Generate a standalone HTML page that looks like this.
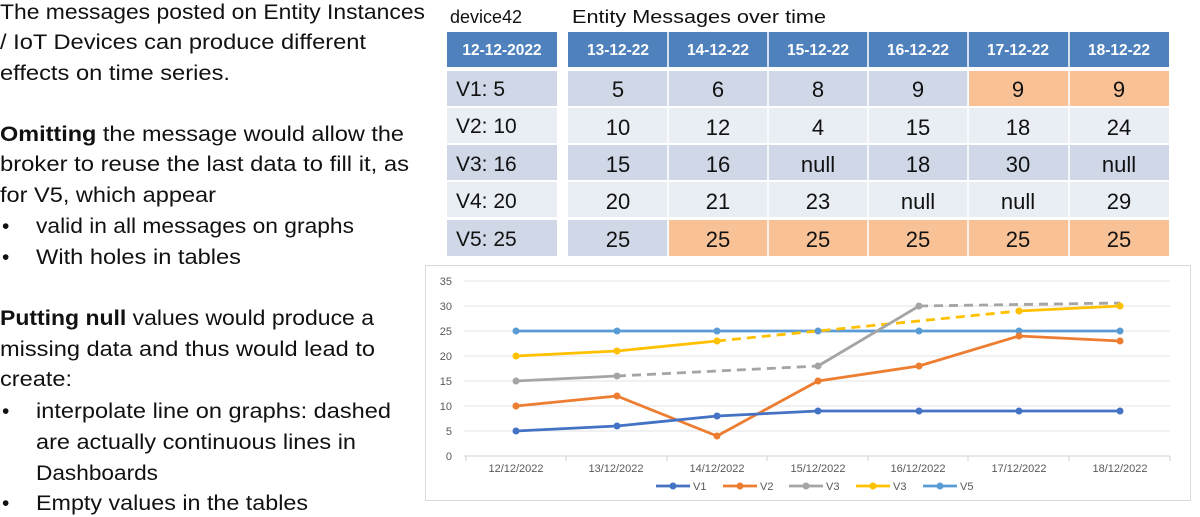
<!DOCTYPE html>
<html><head><meta charset="utf-8"><style>
html,body{margin:0;padding:0;background:#fff;}
svg{display:block;}
text{font-family:"Liberation Sans",sans-serif;}
</style></head><body>
<svg width="1200" height="517" xmlns="http://www.w3.org/2000/svg">
<g font-size="21" fill="#111">
<text x="0" y="19" textLength="425" lengthAdjust="spacingAndGlyphs">The messages posted on Entity Instances</text>
<text x="0" y="49" textLength="366" lengthAdjust="spacingAndGlyphs">/ IoT Devices can produce different</text>
<text x="0" y="80" textLength="230" lengthAdjust="spacingAndGlyphs">effects on time series.</text>
<text x="0" y="141" textLength="404" lengthAdjust="spacingAndGlyphs"><tspan font-weight="bold">Omitting</tspan> the message would allow the</text>
<text x="0" y="171" textLength="409" lengthAdjust="spacingAndGlyphs">broker to reuse the last data to fill it, as</text>
<text x="0" y="202" textLength="216" lengthAdjust="spacingAndGlyphs">for V5, which appear</text>
<text x="2" y="233">•</text><text x="36" y="233" textLength="318" lengthAdjust="spacingAndGlyphs">valid in all messages on graphs</text>
<text x="2" y="264">•</text><text x="36" y="264" textLength="205" lengthAdjust="spacingAndGlyphs">With holes in tables</text>
<text x="0" y="325" textLength="374" lengthAdjust="spacingAndGlyphs"><tspan font-weight="bold">Putting null</tspan> values would produce a</text>
<text x="0" y="356" textLength="375" lengthAdjust="spacingAndGlyphs">missing data and thus would lead to</text>
<text x="0" y="386" textLength="72" lengthAdjust="spacingAndGlyphs">create:</text>
<text x="2" y="418">•</text><text x="36" y="418" textLength="355" lengthAdjust="spacingAndGlyphs">interpolate line on graphs: dashed</text>
<text x="36" y="449" textLength="320" lengthAdjust="spacingAndGlyphs">are actually continuous lines in</text>
<text x="36" y="480" textLength="122" lengthAdjust="spacingAndGlyphs">Dashboards</text>
<text x="2" y="510">•</text><text x="36" y="510" textLength="272" lengthAdjust="spacingAndGlyphs">Empty values in the tables</text>
</g>
<g font-size="18" fill="#111">
<text x="450" y="23">device42</text>
<text x="572" y="23" textLength="254" lengthAdjust="spacingAndGlyphs">Entity Messages over  time</text>
</g>
<g>
<rect x="447" y="32" width="110" height="35" fill="#4F81BD"/>
<rect x="568" y="32" width="601" height="35" fill="#4F81BD"/>
<rect x="447" y="71" width="110" height="35" fill="#D0D8E8"/>
<rect x="447" y="108" width="110" height="35" fill="#E9EDF4"/>
<rect x="447" y="145" width="110" height="35" fill="#D0D8E8"/>
<rect x="447" y="182" width="110" height="35" fill="#E9EDF4"/>
<rect x="447" y="220" width="110" height="36" fill="#D0D8E8"/>
<rect x="568" y="71" width="400" height="35" fill="#D0D8E8"/>
<rect x="969" y="71" width="200" height="35" fill="#F8C196"/>
<rect x="568" y="108" width="601" height="35" fill="#E9EDF4"/>
<rect x="568" y="145" width="601" height="35" fill="#D0D8E8"/>
<rect x="568" y="182" width="601" height="35" fill="#E9EDF4"/>
<rect x="568" y="220" width="100" height="36" fill="#D0D8E8"/>
<rect x="669" y="220" width="500" height="36" fill="#F8C196"/>
<g stroke="#fff" stroke-width="1.5">
<line x1="668" y1="32" x2="668" y2="256"/><line x1="768" y1="32" x2="768" y2="256"/><line x1="868" y1="32" x2="868" y2="256"/><line x1="968" y1="32" x2="968" y2="256"/><line x1="1069" y1="32" x2="1069" y2="256"/>
</g>
<g font-size="15.5" font-weight="bold" fill="#fff" text-anchor="middle">
<text x="502" y="55">12-12-2022</text>
<text x="618" y="55">13-12-22</text><text x="718" y="55">14-12-22</text><text x="818" y="55">15-12-22</text><text x="918" y="55">16-12-22</text><text x="1018" y="55">17-12-22</text><text x="1119" y="55">18-12-22</text>
</g>
<g font-size="21" fill="#111">
<text x="456" y="96">V1: 5</text><text x="456" y="133">V2: 10</text><text x="456" y="171">V3: 16</text><text x="456" y="208">V4: 20</text><text x="456" y="246">V5: 25</text>
</g>
<g font-size="22" fill="#111" text-anchor="middle">
<text x="618" y="97">5</text><text x="718" y="97">6</text><text x="818" y="97">8</text><text x="918" y="97">9</text><text x="1018" y="97">9</text><text x="1119" y="97">9</text>
<text x="618" y="135">10</text><text x="718" y="135">12</text><text x="818" y="135">4</text><text x="918" y="135">15</text><text x="1018" y="135">18</text><text x="1119" y="135">24</text>
<text x="618" y="172">15</text><text x="718" y="172">16</text><text x="818" y="172">null</text><text x="918" y="172">18</text><text x="1018" y="172">30</text><text x="1119" y="172">null</text>
<text x="618" y="209">20</text><text x="718" y="209">21</text><text x="818" y="209">23</text><text x="918" y="209">null</text><text x="1018" y="209">null</text><text x="1119" y="209">29</text>
<text x="618" y="247">25</text><text x="718" y="247">25</text><text x="818" y="247">25</text><text x="918" y="247">25</text><text x="1018" y="247">25</text><text x="1119" y="247">25</text>
</g>
</g>
<rect x="425.5" y="265.5" width="765" height="235" fill="#fff" stroke="#d9d9d9"/>
<g stroke="#e3e3e3" stroke-width="1">
<line x1="464" y1="281" x2="1170" y2="281"/><line x1="464" y1="306" x2="1170" y2="306"/><line x1="464" y1="331" x2="1170" y2="331"/><line x1="464" y1="356" x2="1170" y2="356"/><line x1="464" y1="381" x2="1170" y2="381"/><line x1="464" y1="406" x2="1170" y2="406"/><line x1="464" y1="431" x2="1170" y2="431"/>
</g>
<line x1="464" y1="456" x2="1170" y2="456" stroke="#d0d0d0"/>
<g stroke="#d0d0d0"><line x1="466" y1="456" x2="466" y2="461"/><line x1="566" y1="456" x2="566" y2="461"/><line x1="667" y1="456" x2="667" y2="461"/><line x1="767" y1="456" x2="767" y2="461"/><line x1="868" y1="456" x2="868" y2="461"/><line x1="968" y1="456" x2="968" y2="461"/><line x1="1069" y1="456" x2="1069" y2="461"/><line x1="1170" y1="456" x2="1170" y2="461"/></g>
<g font-size="11" fill="#595959" text-anchor="end">
<text x="452" y="285">35</text><text x="452" y="310">30</text><text x="452" y="335">25</text><text x="452" y="360">20</text><text x="452" y="385">15</text><text x="452" y="410">10</text><text x="452" y="435">5</text><text x="452" y="460">0</text>
</g>
<g font-size="11" fill="#595959" text-anchor="middle">
<text x="516" y="472">12/12/2022</text><text x="616" y="472">13/12/2022</text><text x="717" y="472">14/12/2022</text><text x="818" y="472">15/12/2022</text><text x="918" y="472">16/12/2022</text><text x="1019" y="472">17/12/2022</text><text x="1120" y="472">18/12/2022</text>
</g>
<g fill="none" stroke-width="2.8" stroke-linejoin="round">
<polyline stroke="#5B9BD5" points="516,331 617,331 717,331 818,331 919,331 1019,331 1120,331"/>
<polyline stroke="#FFC000" points="516,356 617,351 717,341"/>
<polyline stroke="#FFC000" stroke-dasharray="9,6" points="717,341 1019,311"/>
<polyline stroke="#FFC000" points="1019,311 1120,306"/>
<polyline stroke="#A5A5A5" points="516,381 617,376"/>
<polyline stroke="#A5A5A5" stroke-dasharray="9,6" points="617,376 818,366"/>
<polyline stroke="#A5A5A5" points="818,366 919,306"/>
<polyline stroke="#A5A5A5" stroke-dasharray="9,6" points="919,306 1120,303"/>
<polyline stroke="#ED7D31" points="516,406 617,396 717,436 818,381 919,366 1019,336 1120,341"/>
<polyline stroke="#4472C4" points="516,431 617,426 717,416 818,411 919,411 1019,411 1120,411"/>
</g>
<g fill="#5B9BD5"><circle cx="516" cy="331" r="3.5"/><circle cx="617" cy="331" r="3.5"/><circle cx="717" cy="331" r="3.5"/><circle cx="818" cy="331" r="3.5"/><circle cx="919" cy="331" r="3.5"/><circle cx="1019" cy="331" r="3.5"/><circle cx="1120" cy="331" r="3.5"/></g>
<g fill="#FFC000"><circle cx="516" cy="356" r="3.5"/><circle cx="617" cy="351" r="3.5"/><circle cx="717" cy="341" r="3.5"/><circle cx="1019" cy="311" r="3.5"/><circle cx="1120" cy="306" r="3.5"/></g>
<g fill="#A5A5A5"><circle cx="516" cy="381" r="3.5"/><circle cx="617" cy="376" r="3.5"/><circle cx="818" cy="366" r="3.5"/><circle cx="919" cy="306" r="3.5"/></g>
<g fill="#ED7D31"><circle cx="516" cy="406" r="3.5"/><circle cx="617" cy="396" r="3.5"/><circle cx="717" cy="436" r="3.5"/><circle cx="818" cy="381" r="3.5"/><circle cx="919" cy="366" r="3.5"/><circle cx="1019" cy="336" r="3.5"/><circle cx="1120" cy="341" r="3.5"/></g>
<g fill="#4472C4"><circle cx="516" cy="431" r="3.5"/><circle cx="617" cy="426" r="3.5"/><circle cx="717" cy="416" r="3.5"/><circle cx="818" cy="411" r="3.5"/><circle cx="919" cy="411" r="3.5"/><circle cx="1019" cy="411" r="3.5"/><circle cx="1120" cy="411" r="3.5"/></g>
<g stroke-width="2.8">
<line x1="656" y1="486" x2="690" y2="486" stroke="#4472C4"/><circle cx="673" cy="486" r="3.5" fill="#4472C4"/>
<line x1="723" y1="486" x2="757" y2="486" stroke="#ED7D31"/><circle cx="740" cy="486" r="3.5" fill="#ED7D31"/>
<line x1="789" y1="486" x2="823" y2="486" stroke="#A5A5A5"/><circle cx="806" cy="486" r="3.5" fill="#A5A5A5"/>
<line x1="856" y1="486" x2="890" y2="486" stroke="#FFC000"/><circle cx="873" cy="486" r="3.5" fill="#FFC000"/>
<line x1="923" y1="486" x2="957" y2="486" stroke="#5B9BD5"/><circle cx="940" cy="486" r="3.5" fill="#5B9BD5"/>
</g>
<g font-size="11" fill="#595959">
<text x="693" y="490">V1</text><text x="760" y="490">V2</text><text x="826" y="490">V3</text><text x="893" y="490">V3</text><text x="960" y="490">V5</text>
</g>
</svg>
</body></html>
